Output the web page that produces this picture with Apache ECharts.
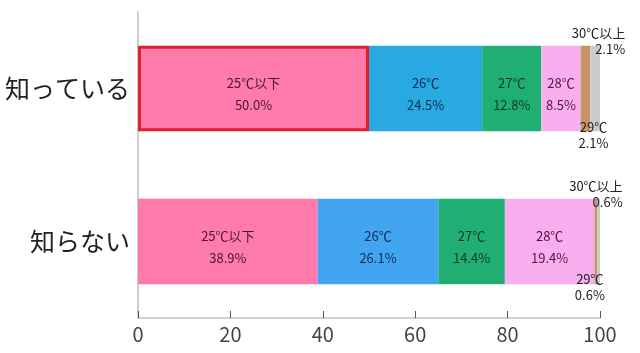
<!DOCTYPE html>
<html>
<head>
<meta charset="utf-8">
<script src="https://cdn.jsdelivr.net/npm/echarts@6/dist/echarts.min.js"></script>
<style>
  html, body { margin: 0; padding: 0; background: #fff; }
  #chart { width: 640px; height: 353px; }
</style>
</head>
<body>
<div id="chart"></div>
<script>
  // categories (top to bottom)
  var categories = ['知っている', '知らない']
  var seriesNames = ['25℃以下', '26℃', '27℃', '28℃', '29℃', '30℃以上']
  // percentage values per series, [知っている, 知らない]
  var below25 = [50.0, 38.9]
  var t26 = [24.5, 26.1]
  var t27 = [12.8, 14.4]
  var t28 = [8.5, 19.4]
  var t29 = [2.1, 0.6]
  var above30 = [2.1, 0.6]
  var xTicks = [0, 20, 40, 60, 80, 100]

  var font = '"Noto Sans CJK JP", "Noto Sans", sans-serif'
  var colors = ['#FF7BAC', '#29A9E1', '#21AE72', '#F9AEEF', '#C69467', '#CBCBCB']
  var labelColors = ['#4a1830', '#0d2d55', '#0b3b22', '#4a1848', '#222', '#222']

  function bigLabel(i) {
    return {
      show: true,
      position: 'inside',
      offset: [0, 6],
      fontFamily: font,
      fontSize: 13,
      lineHeight: 22,
      color: labelColors[i],
      formatter: function (p) { return p.seriesName + '\n' + p.value.toFixed(1) + '%' }
    }
  }

  var values = [below25, t26, t27, t28, t29, above30]
  var series = values.map(function (vals, i) {
    return {
      type: 'bar',
      name: seriesNames[i],
      stack: 'total',
      barWidth: '56%',
      itemStyle: { color: colors[i] },
      emphasis: { disabled: true },
      data: vals.map(function (v) { return { value: v } }),
      label: bigLabel(i)
    }
  })

  // red frame round the first segment
  series[0].data[0].itemStyle = { borderColor: '#E0202E', borderWidth: 3 }
  // lower bar's blue is a touch lighter
  series[1].data[1].itemStyle = { color: '#42A5F2' }

  // 29℃ : label under the bar
  var smallLabel = {
    show: true,
    fontFamily: font,
    fontSize: 13,
    lineHeight: 16,
    color: '#222',
    formatter: function (p) { return p.seriesName + '\n' + p.value.toFixed(1) + '%' }
  }
  series[4].label = Object.assign({}, smallLabel, { position: 'bottom', distance: -12 })
  series[4].data[0].label = { offset: [8, 0] }
  series[4].data[1].label = { offset: [-6, 0], distance: -13 }
  // 30℃以上 : label above the bar, right aligned
  series[5].label = Object.assign({}, smallLabel, { position: 'top', distance: -11, align: 'right' })
  series[5].data[0].label = { offset: [30, 0] }
  series[5].data[1].label = { offset: [24, 0] }

  var chart = echarts.init(document.getElementById('chart'), null, { renderer: 'canvas' })
  chart.setOption({
    animation: false,
    grid: { left: 138, right: 40, top: 12, bottom: 35 },
    xAxis: {
      type: 'value',
      min: xTicks[0],
      max: xTicks[xTicks.length - 1],
      interval: 20,
      splitLine: { show: false },
      axisLine: { show: true, lineStyle: { color: '#cfcfcf', width: 2 } },
      axisTick: { show: true, inside: true, length: 7, lineStyle: { color: '#555' } },
      axisLabel: { fontFamily: font, fontSize: 20, color: '#444', margin: 6 }
    },
    yAxis: {
      type: 'category',
      inverse: true,
      data: categories,
      axisLine: { show: true, lineStyle: { color: '#cfcfcf', width: 2 } },
      axisTick: { show: false },
      axisLabel: { fontFamily: font, fontSize: 25, color: '#222', margin: 8 }
    },
    series: series
  })
</script>
</body>
</html>
